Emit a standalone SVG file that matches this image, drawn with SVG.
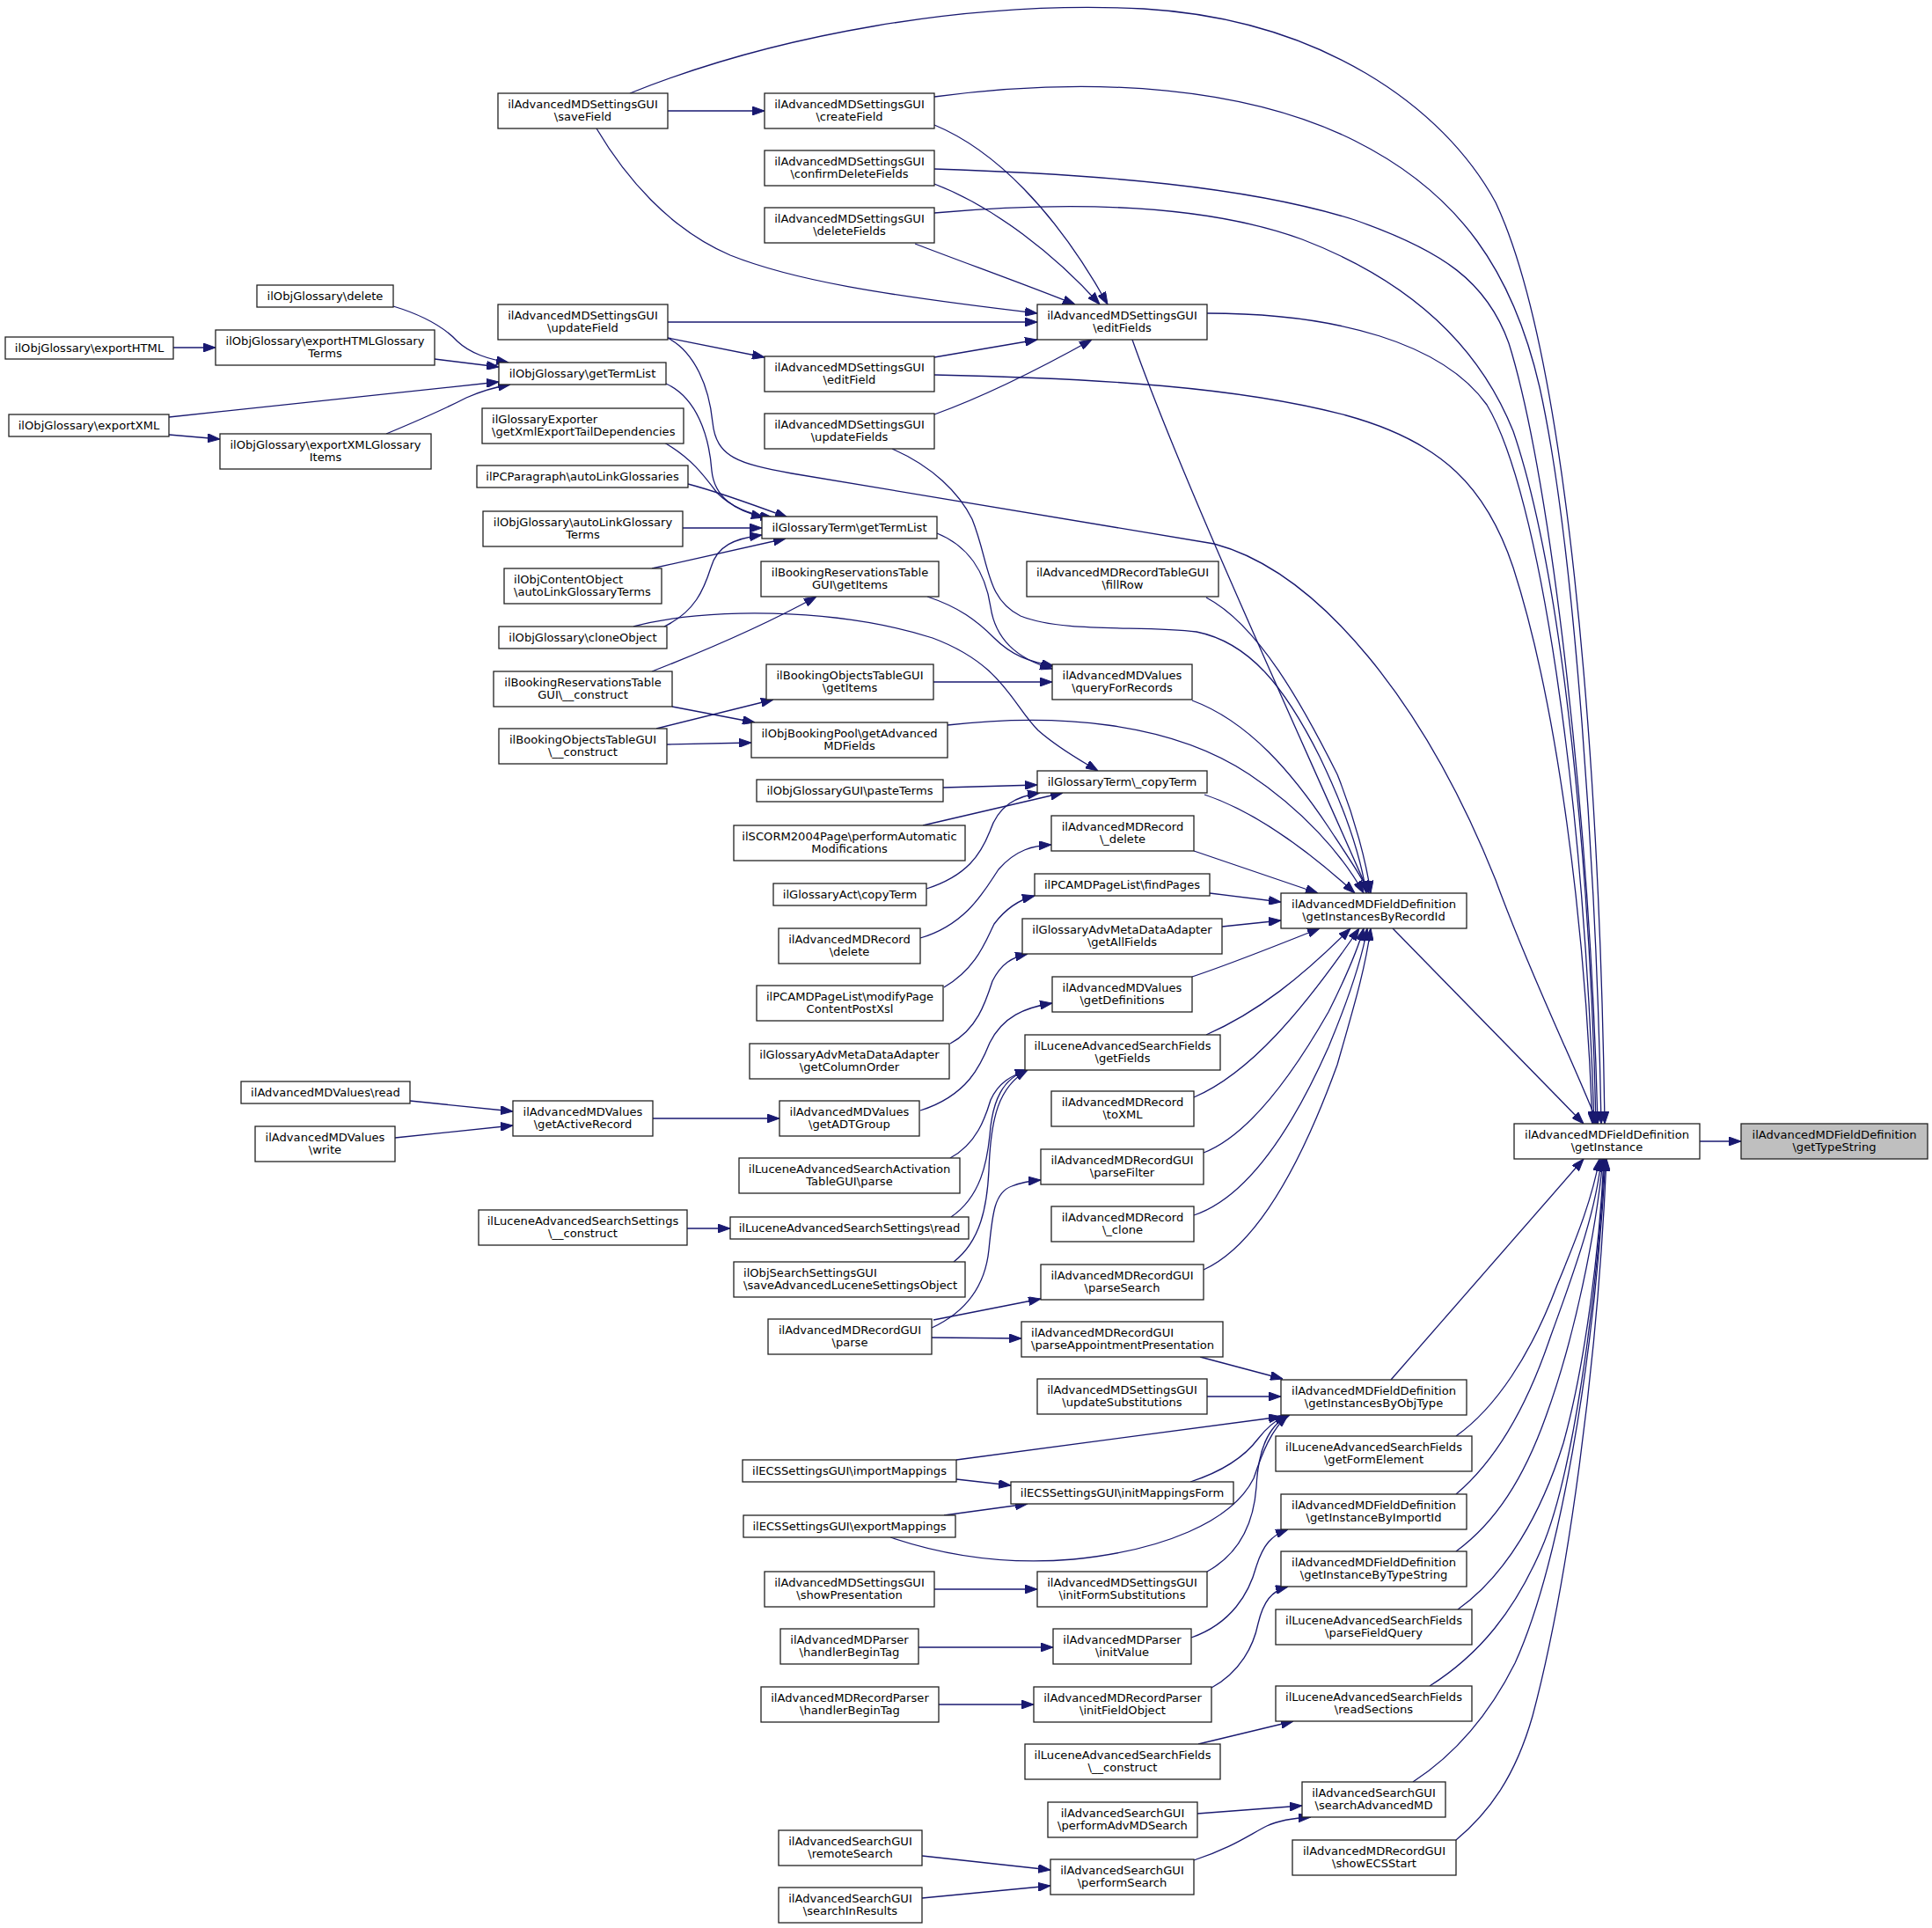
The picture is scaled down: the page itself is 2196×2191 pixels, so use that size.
<svg xmlns="http://www.w3.org/2000/svg" width="2196" height="2191" viewBox="0 0 2196 2191">
<defs>
<style>
.n rect{fill:#fff;stroke:#222;stroke-width:1.3}
.n.f rect{fill:#bfbfbf}
text{font-family:"DejaVu Sans","Liberation Sans",sans-serif;font-size:13.1px;fill:#000;text-anchor:middle}
text.l{text-anchor:start}
#edges path{fill:none;stroke:#191970;stroke-width:1.3;marker-end:url(#a)}
</style>
<marker id="a" viewBox="0 0 14 10" refX="14" refY="5" markerWidth="14" markerHeight="10" markerUnits="userSpaceOnUse" orient="auto"><path d="M0,0L14,5L0,10z" fill="#191970" stroke="#191970" stroke-width="1"/></marker>
</defs>
<rect width="2196" height="2191" fill="#fff"/>
<g id="edges">
<path d="M1932,1297 L1979,1297"/>
<path d="M716,106 C880,40 1100,0 1300,10 C1500,22 1640,120 1700,230 C1780,400 1818,850 1824,1277"/>
<path d="M1062,110 C1250,85 1420,100 1540,160 C1660,220 1720,310 1750,440 C1790,620 1815,1000 1820,1277"/>
<path d="M1062,192 C1250,198 1420,212 1540,250 C1640,285 1690,320 1715,390 C1765,550 1808,950 1816,1277"/>
<path d="M1062,242 C1220,228 1370,232 1480,272 C1600,318 1680,390 1720,490 C1778,660 1808,1000 1814,1277"/>
<path d="M1372,356 C1520,356 1640,390 1690,460 C1750,560 1800,900 1812,1277"/>
<path d="M1062,426 C1250,430 1410,440 1530,472 C1640,502 1690,555 1720,645 C1770,800 1802,1050 1810,1277"/>
<path d="M759,384 C790,400 806,440 810,480 C814,520 840,527 900,538 L1380,618 C1500,650 1620,800 1700,1000 C1740,1110 1790,1210 1816,1277"/>
<path d="M1583,1055 L1800,1277"/>
<path d="M1581,1568 L1800,1317"/>
<path d="M1655,1632 C1700,1600 1740,1540 1770,1460 C1795,1400 1810,1360 1818,1317"/>
<path d="M1655,1698 C1700,1660 1735,1600 1762,1520 C1795,1430 1815,1370 1820,1317"/>
<path d="M1655,1763 C1700,1730 1732,1680 1757,1610 C1790,1520 1814,1400 1822,1317"/>
<path d="M1657,1829 C1712,1790 1752,1720 1777,1640 C1802,1550 1818,1420 1823,1317"/>
<path d="M1625,1916 C1682,1880 1722,1830 1752,1760 C1787,1680 1815,1480 1824,1317"/>
<path d="M1606,2025 C1652,1995 1692,1950 1722,1890 C1772,1780 1812,1550 1825,1317"/>
<path d="M1655,2091 C1692,2060 1722,2020 1742,1950 C1782,1800 1816,1550 1826,1317"/>
<path d="M678,146 C710,200 760,260 830,290 C900,318 1000,335 1179,356"/>
<path d="M759,366 L1179,366"/>
<path d="M1062,406 L1179,386"/>
<path d="M1062,471 C1120,450 1180,420 1241,386"/>
<path d="M1062,142 C1130,170 1200,240 1259,346"/>
<path d="M1062,209 C1130,235 1200,290 1250,346"/>
<path d="M1040,277 C1100,300 1170,325 1222,346"/>
<path d="M1287,386 C1345,550 1475,830 1556,1015"/>
<path d="M1371,679 C1430,710 1480,800 1520,880 C1540,930 1553,980 1558,1015"/>
<path d="M1014,510 C1060,530 1090,560 1105,590 C1125,640 1120,680 1160,700 C1210,720 1300,710 1360,718 C1420,730 1460,780 1500,860 C1528,918 1546,970 1553,1015"/>
<path d="M1355,796 C1420,820 1470,880 1510,940 C1535,978 1550,1000 1556,1015"/>
<path d="M1077,824 C1200,810 1330,820 1420,880 C1480,920 1525,970 1550,1015"/>
<path d="M1369,903 C1420,920 1480,960 1540,1015"/>
<path d="M1357,967 L1498,1015"/>
<path d="M1375,1015 L1456,1025"/>
<path d="M1389,1053 L1456,1046"/>
<path d="M1355,1110 C1400,1095 1450,1075 1500,1055"/>
<path d="M1371,1176 C1430,1150 1480,1110 1535,1055"/>
<path d="M1357,1247 C1420,1220 1480,1150 1545,1055"/>
<path d="M1368,1310 C1420,1290 1470,1220 1510,1150 C1530,1110 1543,1080 1550,1055"/>
<path d="M1357,1381 C1420,1360 1470,1280 1510,1190 C1535,1130 1548,1090 1554,1055"/>
<path d="M1368,1443 C1430,1415 1480,1320 1520,1210 C1540,1140 1552,1100 1558,1055"/>
<path d="M757,436 C792,452 806,495 809,535 C812,565 835,580 868,588"/>
<path d="M755,503 C785,520 800,540 815,560 C830,575 850,585 878,588"/>
<path d="M782,550 C820,560 860,575 895,588"/>
<path d="M776,600 L866,600"/>
<path d="M741,646 L893,612"/>
<path d="M755,712 C790,695 800,670 808,645 C815,620 835,612 866,608"/>
<path d="M447,348 C480,358 505,372 520,388 C535,402 555,408 578,412"/>
<path d="M494,408 L567,417"/>
<path d="M192,474 L567,434"/>
<path d="M439,493 C475,478 505,465 530,452 C548,444 562,440 580,437"/>
<path d="M197,395 L245,395"/>
<path d="M192,494 L250,499"/>
<path d="M759,126 L869,126"/>
<path d="M759,384 L869,406"/>
<path d="M741,763 C800,740 870,710 928,678"/>
<path d="M746,828 L879,795"/>
<path d="M764,803 L858,821"/>
<path d="M758,846 L854,844"/>
<path d="M1065,606 C1100,620 1120,650 1126,690 C1132,730 1160,750 1196,760"/>
<path d="M1054,678 C1090,690 1110,705 1130,725 C1150,745 1170,752 1198,757"/>
<path d="M1061,775 L1196,775"/>
<path d="M1072,895 L1179,892"/>
<path d="M1049,938 L1208,901"/>
<path d="M1053,1010 C1100,995 1115,970 1125,945 C1135,915 1155,905 1182,901"/>
<path d="M720,712 C800,690 950,690 1060,725 C1140,755 1150,800 1180,830 C1205,852 1230,865 1248,876"/>
<path d="M1046,1066 C1100,1050 1120,1010 1135,988 C1155,965 1175,961 1195,960"/>
<path d="M1073,1122 C1110,1100 1120,1070 1130,1050 C1145,1030 1160,1022 1176,1018"/>
<path d="M1080,1186 C1110,1170 1120,1140 1128,1115 C1138,1095 1150,1088 1168,1084"/>
<path d="M1046,1262 C1100,1245 1115,1210 1125,1185 C1140,1155 1165,1145 1196,1140"/>
<path d="M742,1271 L886,1271"/>
<path d="M466,1251 L583,1263"/>
<path d="M449,1293 L583,1279"/>
<path d="M781,1396 L830,1396"/>
<path d="M1080,1316 C1110,1300 1120,1270 1126,1250 C1135,1230 1150,1222 1168,1216"/>
<path d="M1081,1383 C1115,1360 1122,1320 1125,1290 C1128,1250 1140,1225 1168,1216"/>
<path d="M1084,1434 C1115,1410 1122,1370 1124,1330 C1126,1270 1135,1235 1168,1216"/>
<path d="M1059,1509 C1100,1490 1120,1460 1124,1420 C1128,1380 1130,1355 1150,1348 C1160,1344 1170,1342 1183,1341"/>
<path d="M1061,1500 L1183,1476"/>
<path d="M1059,1520 L1161,1521"/>
<path d="M1364,1542 L1458,1567"/>
<path d="M1372,1587 L1456,1587"/>
<path d="M1087,1659 L1456,1610"/>
<path d="M1353,1684 C1390,1672 1415,1655 1430,1635 C1440,1622 1450,1614 1462,1608"/>
<path d="M1012,1747 C1080,1770 1150,1778 1220,1772 C1320,1762 1400,1730 1425,1680 C1435,1650 1445,1625 1464,1608"/>
<path d="M1372,1786 C1410,1765 1425,1730 1428,1690 C1430,1650 1440,1620 1466,1608"/>
<path d="M1087,1681 L1149,1688"/>
<path d="M1073,1722 L1168,1709"/>
<path d="M1062,1806 L1179,1806"/>
<path d="M1044,1872 L1197,1872"/>
<path d="M1067,1937 L1175,1937"/>
<path d="M1354,1861 C1400,1845 1420,1810 1428,1780 C1436,1755 1445,1745 1464,1738"/>
<path d="M1377,1918 C1410,1900 1425,1870 1430,1845 C1436,1820 1445,1808 1464,1803"/>
<path d="M1362,1982 L1470,1956"/>
<path d="M1361,2061 L1480,2052"/>
<path d="M1357,2114 C1400,2100 1420,2085 1440,2075 C1455,2068 1470,2066 1490,2065"/>
<path d="M1048,2109 L1194,2125"/>
<path d="M1048,2157 L1194,2143"/>
</g>
<g id="n1" class="n"><rect x="566" y="106" width="193" height="40"/><text x="662.5" y="122.5">ilAdvancedMDSettingsGUI</text><text x="662.5" y="137">\saveField</text></g>
<g id="n2" class="n"><rect x="869" y="106" width="193" height="40"/><text x="965.5" y="122.5">ilAdvancedMDSettingsGUI</text><text x="965.5" y="137">\createField</text></g>
<g id="n3" class="n"><rect x="869" y="171" width="193" height="40"/><text x="965.5" y="187.5">ilAdvancedMDSettingsGUI</text><text x="965.5" y="202">\confirmDeleteFields</text></g>
<g id="n4" class="n"><rect x="869" y="236" width="193" height="40"/><text x="965.5" y="252.5">ilAdvancedMDSettingsGUI</text><text x="965.5" y="267">\deleteFields</text></g>
<g id="n5" class="n"><rect x="1179" y="346" width="193" height="40"/><text x="1275.5" y="362.5">ilAdvancedMDSettingsGUI</text><text x="1275.5" y="377">\editFields</text></g>
<g id="n6" class="n"><rect x="566" y="346" width="193" height="40"/><text x="662.5" y="362.5">ilAdvancedMDSettingsGUI</text><text x="662.5" y="377">\updateField</text></g>
<g id="n7" class="n"><rect x="869" y="405" width="193" height="40"/><text x="965.5" y="421.5">ilAdvancedMDSettingsGUI</text><text x="965.5" y="436">\editField</text></g>
<g id="n8" class="n"><rect x="869" y="470" width="193" height="40"/><text x="965.5" y="486.5">ilAdvancedMDSettingsGUI</text><text x="965.5" y="501">\updateFields</text></g>
<g id="n9" class="n"><rect x="292" y="324" width="155" height="25"/><text x="369.5" y="341">ilObjGlossary\delete</text></g>
<g id="n10" class="n"><rect x="6" y="383" width="191" height="25"/><text x="101.5" y="400">ilObjGlossary\exportHTML</text></g>
<g id="n11" class="n"><rect x="245" y="375" width="249" height="40"/><text x="369.5" y="391.5">ilObjGlossary\exportHTMLGlossary</text><text x="369.5" y="406">Terms</text></g>
<g id="n12" class="n"><rect x="567" y="412" width="190" height="25"/><text x="662" y="429">ilObjGlossary\getTermList</text></g>
<g id="n13" class="n"><rect x="10" y="471" width="182" height="25"/><text x="101" y="488">ilObjGlossary\exportXML</text></g>
<g id="n14" class="n"><rect x="250" y="493" width="240" height="40"/><text x="370" y="509.5">ilObjGlossary\exportXMLGlossary</text><text x="370" y="524">Items</text></g>
<g id="n15" class="n"><rect x="548" y="464" width="229" height="40"/><text class="l" x="559" y="480.5">ilGlossaryExporter</text><text class="l" x="559" y="495">\getXmlExportTailDependencies</text></g>
<g id="n16" class="n"><rect x="542" y="529" width="240" height="25"/><text x="662" y="546">ilPCParagraph\autoLinkGlossaries</text></g>
<g id="n17" class="n"><rect x="549" y="581" width="227" height="40"/><text x="662.5" y="597.5">ilObjGlossary\autoLinkGlossary</text><text x="662.5" y="612">Terms</text></g>
<g id="n18" class="n"><rect x="573" y="646" width="179" height="40"/><text class="l" x="584" y="662.5">ilObjContentObject</text><text class="l" x="584" y="677">\autoLinkGlossaryTerms</text></g>
<g id="n19" class="n"><rect x="567" y="712" width="191" height="25"/><text x="662.5" y="729">ilObjGlossary\cloneObject</text></g>
<g id="n20" class="n"><rect x="561" y="763" width="203" height="40"/><text x="662.5" y="779.5">ilBookingReservationsTable</text><text x="662.5" y="794">GUI\__construct</text></g>
<g id="n21" class="n"><rect x="567" y="828" width="191" height="40"/><text x="662.5" y="844.5">ilBookingObjectsTableGUI</text><text x="662.5" y="859">\__construct</text></g>
<g id="n22" class="n"><rect x="866" y="587" width="199" height="25"/><text x="965.5" y="604">ilGlossaryTerm\getTermList</text></g>
<g id="n23" class="n"><rect x="865" y="638" width="202" height="40"/><text x="966" y="654.5">ilBookingReservationsTable</text><text x="966" y="669">GUI\getItems</text></g>
<g id="n24" class="n"><rect x="1167" y="638" width="218" height="40"/><text x="1276" y="654.5">ilAdvancedMDRecordTableGUI</text><text x="1276" y="669">\fillRow</text></g>
<g id="n25" class="n"><rect x="871" y="755" width="190" height="40"/><text x="966" y="771.5">ilBookingObjectsTableGUI</text><text x="966" y="786">\getItems</text></g>
<g id="n26" class="n"><rect x="1196" y="755" width="159" height="40"/><text x="1275.5" y="771.5">ilAdvancedMDValues</text><text x="1275.5" y="786">\queryForRecords</text></g>
<g id="n27" class="n"><rect x="854" y="821" width="223" height="40"/><text x="965.5" y="837.5">ilObjBookingPool\getAdvanced</text><text x="965.5" y="852">MDFields</text></g>
<g id="n28" class="n"><rect x="860" y="886" width="212" height="25"/><text x="966" y="903">ilObjGlossaryGUI\pasteTerms</text></g>
<g id="n29" class="n"><rect x="1179" y="876" width="193" height="25"/><text x="1275.5" y="893">ilGlossaryTerm\_copyTerm</text></g>
<g id="n30" class="n"><rect x="834" y="938" width="263" height="40"/><text x="965.5" y="954.5">ilSCORM2004Page\performAutomatic</text><text x="965.5" y="969">Modifications</text></g>
<g id="n31" class="n"><rect x="1195" y="927" width="162" height="40"/><text x="1276" y="943.5">ilAdvancedMDRecord</text><text x="1276" y="958">\_delete</text></g>
<g id="n32" class="n"><rect x="879" y="1004" width="174" height="25"/><text x="966" y="1021">ilGlossaryAct\copyTerm</text></g>
<g id="n33" class="n"><rect x="1176" y="993" width="199" height="25"/><text x="1275.5" y="1010">ilPCAMDPageList\findPages</text></g>
<g id="n34" class="n"><rect x="1162" y="1044" width="227" height="40"/><text x="1275.5" y="1060.5">ilGlossaryAdvMetaDataAdapter</text><text x="1275.5" y="1075">\getAllFields</text></g>
<g id="n35" class="n"><rect x="885" y="1055" width="161" height="40"/><text x="965.5" y="1071.5">ilAdvancedMDRecord</text><text x="965.5" y="1086">\delete</text></g>
<g id="n36" class="n"><rect x="1456" y="1015" width="211" height="40"/><text x="1561.5" y="1031.5">ilAdvancedMDFieldDefinition</text><text x="1561.5" y="1046">\getInstancesByRecordId</text></g>
<g id="n37" class="n"><rect x="860" y="1120" width="212" height="40"/><text x="966" y="1136.5">ilPCAMDPageList\modifyPage</text><text x="966" y="1151">ContentPostXsl</text></g>
<g id="n38" class="n"><rect x="1196" y="1110" width="159" height="40"/><text x="1275.5" y="1126.5">ilAdvancedMDValues</text><text x="1275.5" y="1141">\getDefinitions</text></g>
<g id="n39" class="n"><rect x="852" y="1186" width="227" height="40"/><text x="965.5" y="1202.5">ilGlossaryAdvMetaDataAdapter</text><text x="965.5" y="1217">\getColumnOrder</text></g>
<g id="n40" class="n"><rect x="1165" y="1176" width="222" height="40"/><text x="1276" y="1192.5">ilLuceneAdvancedSearchFields</text><text x="1276" y="1207">\getFields</text></g>
<g id="n41" class="n"><rect x="886" y="1251" width="159" height="40"/><text x="965.5" y="1267.5">ilAdvancedMDValues</text><text x="965.5" y="1282">\getADTGroup</text></g>
<g id="n42" class="n"><rect x="1195" y="1240" width="162" height="40"/><text x="1276" y="1256.5">ilAdvancedMDRecord</text><text x="1276" y="1271">\toXML</text></g>
<g id="n43" class="n"><rect x="840" y="1316" width="251" height="40"/><text x="965.5" y="1332.5">ilLuceneAdvancedSearchActivation</text><text x="965.5" y="1347">TableGUI\parse</text></g>
<g id="n44" class="n"><rect x="1183" y="1306" width="185" height="40"/><text x="1275.5" y="1322.5">ilAdvancedMDRecordGUI</text><text x="1275.5" y="1337">\parseFilter</text></g>
<g id="n45" class="n"><rect x="830" y="1383" width="271" height="25"/><text x="965.5" y="1400">ilLuceneAdvancedSearchSettings\read</text></g>
<g id="n46" class="n"><rect x="1195" y="1371" width="162" height="40"/><text x="1276" y="1387.5">ilAdvancedMDRecord</text><text x="1276" y="1402">\_clone</text></g>
<g id="n47" class="n"><rect x="834" y="1434" width="263" height="40"/><text class="l" x="845" y="1450.5">ilObjSearchSettingsGUI</text><text class="l" x="845" y="1465">\saveAdvancedLuceneSettingsObject</text></g>
<g id="n48" class="n"><rect x="1183" y="1437" width="185" height="40"/><text x="1275.5" y="1453.5">ilAdvancedMDRecordGUI</text><text x="1275.5" y="1468">\parseSearch</text></g>
<g id="n49" class="n"><rect x="873" y="1499" width="186" height="40"/><text x="966" y="1515.5">ilAdvancedMDRecordGUI</text><text x="966" y="1530">\parse</text></g>
<g id="n50" class="n"><rect x="1161" y="1502" width="229" height="40"/><text class="l" x="1172" y="1518.5">ilAdvancedMDRecordGUI</text><text class="l" x="1172" y="1533">\parseAppointmentPresentation</text></g>
<g id="n51" class="n"><rect x="1179" y="1567" width="193" height="40"/><text x="1275.5" y="1583.5">ilAdvancedMDSettingsGUI</text><text x="1275.5" y="1598">\updateSubstitutions</text></g>
<g id="n52" class="n"><rect x="1456" y="1568" width="211" height="40"/><text x="1561.5" y="1584.5">ilAdvancedMDFieldDefinition</text><text x="1561.5" y="1599">\getInstancesByObjType</text></g>
<g id="n53" class="n"><rect x="274" y="1229" width="192" height="25"/><text x="370" y="1246">ilAdvancedMDValues\read</text></g>
<g id="n54" class="n"><rect x="290" y="1280" width="159" height="40"/><text x="369.5" y="1296.5">ilAdvancedMDValues</text><text x="369.5" y="1311">\write</text></g>
<g id="n55" class="n"><rect x="583" y="1251" width="159" height="40"/><text x="662.5" y="1267.5">ilAdvancedMDValues</text><text x="662.5" y="1282">\getActiveRecord</text></g>
<g id="n56" class="n"><rect x="544" y="1375" width="237" height="40"/><text x="662.5" y="1391.5">ilLuceneAdvancedSearchSettings</text><text x="662.5" y="1406">\__construct</text></g>
<g id="n57" class="n"><rect x="844" y="1659" width="243" height="25"/><text x="965.5" y="1676">ilECSSettingsGUI\importMappings</text></g>
<g id="n58" class="n"><rect x="1149" y="1684" width="253" height="25"/><text x="1275.5" y="1701">ilECSSettingsGUI\initMappingsForm</text></g>
<g id="n59" class="n"><rect x="845" y="1722" width="241" height="25"/><text x="965.5" y="1739">ilECSSettingsGUI\exportMappings</text></g>
<g id="n60" class="n"><rect x="869" y="1786" width="193" height="40"/><text x="965.5" y="1802.5">ilAdvancedMDSettingsGUI</text><text x="965.5" y="1817">\showPresentation</text></g>
<g id="n61" class="n"><rect x="1179" y="1786" width="193" height="40"/><text x="1275.5" y="1802.5">ilAdvancedMDSettingsGUI</text><text x="1275.5" y="1817">\initFormSubstitutions</text></g>
<g id="n62" class="n"><rect x="887" y="1851" width="157" height="40"/><text x="965.5" y="1867.5">ilAdvancedMDParser</text><text x="965.5" y="1882">\handlerBeginTag</text></g>
<g id="n63" class="n"><rect x="1197" y="1851" width="157" height="40"/><text x="1275.5" y="1867.5">ilAdvancedMDParser</text><text x="1275.5" y="1882">\initValue</text></g>
<g id="n64" class="n"><rect x="865" y="1917" width="202" height="40"/><text x="966" y="1933.5">ilAdvancedMDRecordParser</text><text x="966" y="1948">\handlerBeginTag</text></g>
<g id="n65" class="n"><rect x="1175" y="1917" width="202" height="40"/><text x="1276" y="1933.5">ilAdvancedMDRecordParser</text><text x="1276" y="1948">\initFieldObject</text></g>
<g id="n66" class="n"><rect x="1165" y="1982" width="222" height="40"/><text x="1276" y="1998.5">ilLuceneAdvancedSearchFields</text><text x="1276" y="2013">\__construct</text></g>
<g id="n67" class="n"><rect x="1191" y="2048" width="170" height="40"/><text x="1276" y="2064.5">ilAdvancedSearchGUI</text><text x="1276" y="2079">\performAdvMDSearch</text></g>
<g id="n68" class="n"><rect x="885" y="2080" width="163" height="40"/><text x="966.5" y="2096.5">ilAdvancedSearchGUI</text><text x="966.5" y="2111">\remoteSearch</text></g>
<g id="n69" class="n"><rect x="1194" y="2113" width="163" height="40"/><text x="1275.5" y="2129.5">ilAdvancedSearchGUI</text><text x="1275.5" y="2144">\performSearch</text></g>
<g id="n70" class="n"><rect x="885" y="2145" width="163" height="40"/><text x="966.5" y="2161.5">ilAdvancedSearchGUI</text><text x="966.5" y="2176">\searchInResults</text></g>
<g id="n71" class="n"><rect x="1721" y="1277" width="211" height="40"/><text x="1826.5" y="1293.5">ilAdvancedMDFieldDefinition</text><text x="1826.5" y="1308">\getInstance</text></g>
<g id="n72" class="n f"><rect x="1979" y="1277" width="212" height="40"/><text x="2085" y="1293.5">ilAdvancedMDFieldDefinition</text><text x="2085" y="1308">\getTypeString</text></g>
<g id="n73" class="n"><rect x="1450" y="1632" width="223" height="40"/><text x="1561.5" y="1648.5">ilLuceneAdvancedSearchFields</text><text x="1561.5" y="1663">\getFormElement</text></g>
<g id="n74" class="n"><rect x="1456" y="1698" width="211" height="40"/><text x="1561.5" y="1714.5">ilAdvancedMDFieldDefinition</text><text x="1561.5" y="1729">\getInstanceByImportId</text></g>
<g id="n75" class="n"><rect x="1456" y="1763" width="211" height="40"/><text x="1561.5" y="1779.5">ilAdvancedMDFieldDefinition</text><text x="1561.5" y="1794">\getInstanceByTypeString</text></g>
<g id="n76" class="n"><rect x="1450" y="1829" width="223" height="40"/><text x="1561.5" y="1845.5">ilLuceneAdvancedSearchFields</text><text x="1561.5" y="1860">\parseFieldQuery</text></g>
<g id="n77" class="n"><rect x="1450" y="1916" width="223" height="40"/><text x="1561.5" y="1932.5">ilLuceneAdvancedSearchFields</text><text x="1561.5" y="1947">\readSections</text></g>
<g id="n78" class="n"><rect x="1480" y="2025" width="163" height="40"/><text x="1561.5" y="2041.5">ilAdvancedSearchGUI</text><text x="1561.5" y="2056">\searchAdvancedMD</text></g>
<g id="n79" class="n"><rect x="1469" y="2091" width="186" height="40"/><text x="1562" y="2107.5">ilAdvancedMDRecordGUI</text><text x="1562" y="2122">\showECSStart</text></g>
</svg>
